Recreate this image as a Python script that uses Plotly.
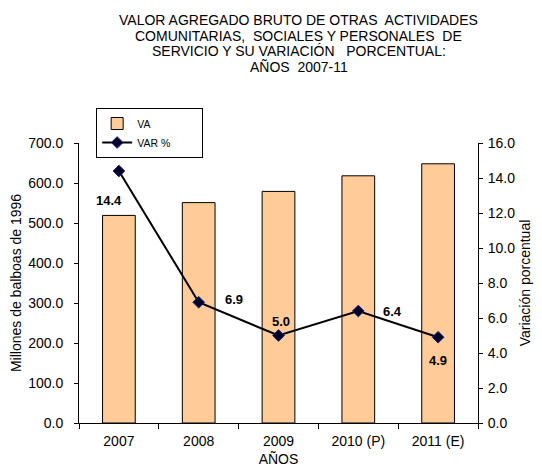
import plotly.graph_objects as go

# data
years = ["2007", "2008", "2009", "2010 (P)", "2011 (E)"]
va = [519, 551, 579, 618, 648]
var_pct = [14.4, 6.9, 5.0, 6.4, 4.9]
# label offsets (px) relative to each marker
label_dx = [-10, 35, 2, 34, 0]
label_dy = [-29, 3, 14, 0, -23]

font_name = "Liberation Sans, Arial, sans-serif"

fig = go.Figure()

fig.add_trace(go.Bar(
    x=years, y=va, name="VA" + "\u00a0" * 16,
    marker=dict(color="#FFCC99", line=dict(color="black", width=1)),
    width=0.41, yaxis="y",
))

fig.add_trace(go.Scatter(
    x=years, y=var_pct, name="VAR %", yaxis="y2",
    mode="lines+markers",
    line=dict(color="black", width=2),
    marker=dict(symbol="diamond", size=9, color="#000022",
                line=dict(color="#1a1a8c", width=1)),
))

for i, v in enumerate(var_pct):
    fig.add_annotation(
        x=i, y=v, xref="x", yref="y2", text="<b>%.1f</b>" % v,
        showarrow=False, xshift=label_dx[i], yshift=label_dy[i],
        font=dict(size=13, color="black"),
    )

title_lines = [
    "VALOR AGREGADO BRUTO DE OTRAS  ACTIVIDADES",
    "COMUNITARIAS,  SOCIALES Y PERSONALES  DE",
    "SERVICIO Y SU VARIACIÓN   PORCENTUAL:",
    "AÑOS  2007-11",
]

axis_common = dict(showline=True, linecolor="black", linewidth=1,
                   tickcolor="black", showgrid=False, zeroline=False)

# page body adds 8px offset, so figure is sized to fit the window
fig.update_layout(
    width=526, height=459,
    margin=dict(l=71, r=56, t=135, b=44, autoexpand=False),
    paper_bgcolor="white", plot_bgcolor="white",
    font=dict(family=font_name, size=14, color="black"),
    showlegend=True,
    legend=dict(
        x=0.043, y=1.125, xanchor="left", yanchor="top",
        bordercolor="black", borderwidth=1, bgcolor="white",
        font=dict(size=10.5), itemwidth=30,
    ),
    xaxis=dict(
        type="category",
        ticks="outside", tickson="boundaries", ticklen=5,
        ticklabelstandoff=5,
        tickfont=dict(size=14),
        title=dict(text="AÑOS", font=dict(size=14), standoff=24),
        **axis_common,
    ),
    yaxis=dict(
        range=[0, 700], dtick=100, tickformat=".1f",
        ticks="outside", ticklen=4, ticklabelstandoff=8,
        tickfont=dict(size=14),
        title=dict(text="Millones de balboas de 1996", font=dict(size=14), standoff=5),
        **axis_common,
    ),
    yaxis2=dict(
        range=[0, 16], dtick=2, tickformat=".1f",
        overlaying="y", side="right",
        ticks="outside", ticklen=4, ticklabelstandoff=2,
        tickfont=dict(size=14),
        title=dict(text="Variación porcentual", font=dict(size=14), standoff=5),
        **axis_common,
    ),
)

for i, line in enumerate(title_lines):
    fig.add_annotation(
        text=line, xref="paper", yref="paper",
        x=0.551, y=1.0, yshift=123 - i * 15.5,
        xanchor="center", yanchor="middle",
        showarrow=False, font=dict(size=14),
    )

fig.write_html("out.html")
